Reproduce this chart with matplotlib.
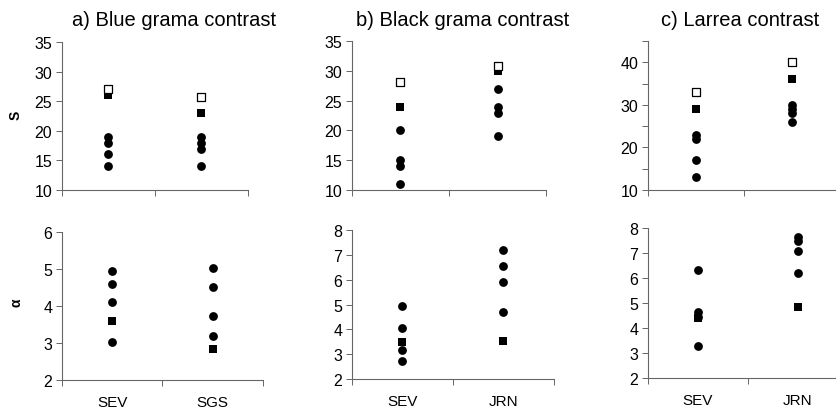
import matplotlib
matplotlib.use("Agg")
import matplotlib.pyplot as plt

plt.rcParams['font.family'] = ['Liberation Sans', 'DejaVu Sans']

# categories per panel
sites_a = ['SEV', 'SGS']
sites_b = ['SEV', 'JRN']
sites_c = ['SEV', 'JRN']
titles = ['a) Blue grama contrast', 'b) Black grama contrast', 'c) Larrea contrast']

# S (richness): open square, filled square, circles -- one list per site
S_open_a = [27, 25.7]
S_fill_a = [26, 23]
S_circ_a = [[19, 18, 16, 14], [19, 18, 17, 14]]

S_open_b = [28.2, 30.8]
S_fill_b = [24, 30]
S_circ_b = [[20, 15, 14, 11], [27, 24, 23, 19]]

S_open_c = [33, 40]
S_fill_c = [29, 36]
S_circ_c = [[23, 22, 17, 13], [30, 29, 28, 26]]

# alpha: filled square, circles
A_fill_a = [3.6, 2.84]
A_circ_a = [[4.95, 4.6, 4.1, 3.02], [5.03, 4.52, 3.73, 3.19]]

A_fill_b = [3.48, 3.55]
A_circ_b = [[4.95, 4.06, 3.15, 2.72], [7.2, 6.54, 5.89, 4.69]]

A_fill_c = [4.4, 4.86]
A_circ_c = [[6.34, 4.66, 4.45, 3.3], [7.66, 7.48, 7.1, 6.21]]

W, H = 837, 410
fig = plt.figure(figsize=(W / 100, H / 100), dpi=100)


def px_axes(l, t, r, b):
    return fig.add_axes([l / W, 1 - b / H, (r - l) / W, (b - t) / H])


def style(ax, ylim, yticks, ylabels, sites, show_x):
    ax.set_xlim(0, 2)
    ax.set_ylim(*ylim)
    ax.set_yticks(yticks)
    ax.set_yticklabels(ylabels)
    for s in ['top', 'right']:
        ax.spines[s].set_visible(False)
    for s in ['left', 'bottom']:
        ax.spines[s].set_color('#666666')
        ax.spines[s].set_linewidth(0.8)
        ax.spines[s].set_clip_on(False)
    ax.set_xticks([0, 1, 2])
    ax.set_xticklabels([])
    ax.tick_params(axis='both', direction='out', length=4, width=0.7,
                   color='#666666', labelsize=11.5, pad=3)
    if show_x:
        for i, name in enumerate(sites):
            ax.text(i + 0.5, -0.15, name, transform=ax.get_xaxis_transform(),
                    ha='center', va='center', fontsize=11)


def plot_s(ax, opens, fills, circs):
    for i in range(2):
        x = i + 0.5
        ax.scatter([x] * len(circs[i]), circs[i], s=40, c='black', marker='o',
                   linewidths=0, zorder=3, clip_on=False)
        ax.scatter([x], [fills[i]], s=34, c='black', marker='s',
                   linewidths=0, zorder=4, clip_on=False)
        ax.scatter([x], [opens[i]], s=26, facecolors='white', edgecolors='black',
                   marker='s', linewidths=0.9, zorder=5, clip_on=False)


def plot_a(ax, fills, circs):
    for i in range(2):
        x = i + 0.5
        ax.scatter([x] * len(circs[i]), circs[i], s=40, c='black', marker='o',
                   linewidths=0, zorder=3, clip_on=False)
        ax.scatter([x], [fills[i]], s=34, c='black', marker='s',
                   linewidths=0, zorder=4, clip_on=False)


# top row (S)
ax1 = px_axes(62, 43, 248, 191)
plot_s(ax1, S_open_a, S_fill_a, S_circ_a)
style(ax1, (10, 35), range(10, 36, 5), [str(v) for v in range(10, 36, 5)], sites_a, False)

ax2 = px_axes(352, 42, 546, 191)
plot_s(ax2, S_open_b, S_fill_b, S_circ_b)
style(ax2, (10, 35), range(10, 36, 5), [str(v) for v in range(10, 36, 5)], sites_b, False)

ax3 = px_axes(648, 42, 840, 191)
plot_s(ax3, S_open_c, S_fill_c, S_circ_c)
style(ax3, (10, 45), range(10, 46, 5),
      [str(v) if v % 10 == 0 else '' for v in range(10, 46, 5)], sites_c, False)

# bottom row (alpha)
ax4 = px_axes(62, 233, 263, 381)
plot_a(ax4, A_fill_a, A_circ_a)
style(ax4, (2, 6), range(2, 7), [str(v) for v in range(2, 7)], sites_a, True)

ax5 = px_axes(352, 231, 554, 380)
plot_a(ax5, A_fill_b, A_circ_b)
style(ax5, (2, 8), range(2, 9), [str(v) for v in range(2, 9)], sites_b, True)

ax6 = px_axes(648, 229, 848, 379)
plot_a(ax6, A_fill_c, A_circ_c)
style(ax6, (2, 8), range(2, 9), [str(v) for v in range(2, 9)], sites_c, True)

# titles and row labels
for xc, t in zip([174, 463, 740], titles):
    fig.text(xc / W, 1 - 21 / H, t, ha='center', va='center', fontsize=14.5)
fig.text(16 / W, 1 - 115 / H, 'S', rotation=90, ha='center', va='center',
         fontsize=10, fontweight='bold')
fig.text(17 / W, 1 - 303 / H, 'α', rotation=90, ha='center', va='center',
         fontsize=10, fontweight='bold')

fig.savefig('out.png', dpi=100)
